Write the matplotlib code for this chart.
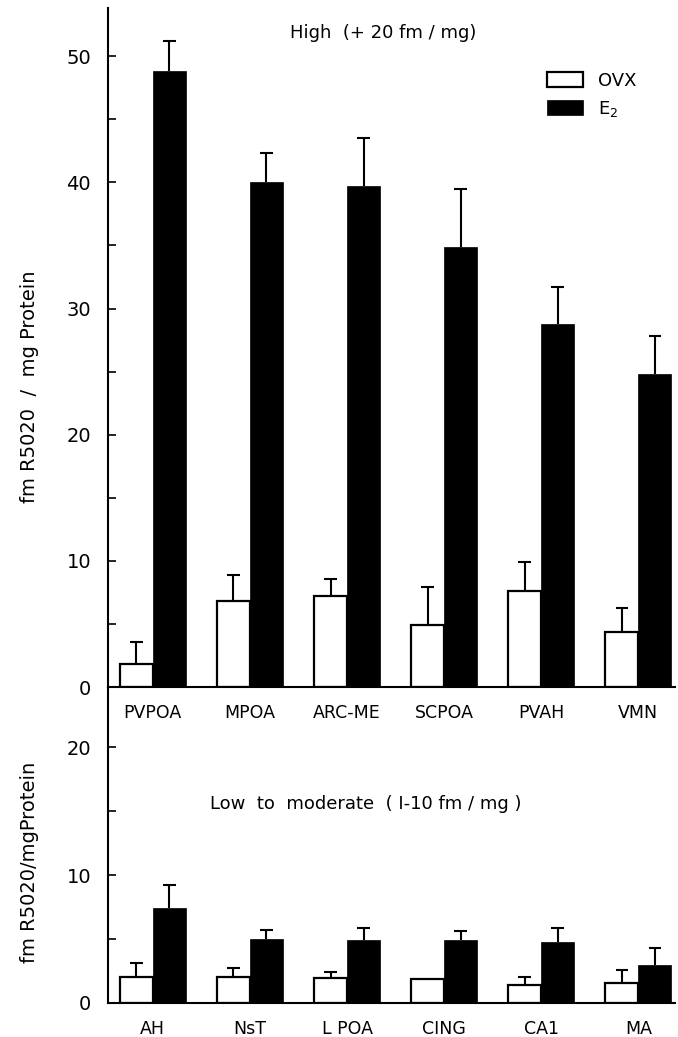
import matplotlib.pyplot as plt
import numpy as np

# High binding regions (top panel)
high_regions = ['PVPOA', 'MPOA', 'ARC-ME', 'SCPOA', 'PVAH', 'VMN']
high_ovx = [1.8, 6.8, 7.2, 4.9, 7.6, 4.4]
high_ovx_err = [1.8, 2.1, 1.4, 3.0, 2.3, 1.9]
high_e2 = [48.8, 40.0, 39.7, 34.9, 28.8, 24.8]
high_e2_err = [2.4, 2.3, 3.8, 4.6, 2.9, 3.0]

# Low to moderate regions (bottom panel)
low_regions = ['AH', 'NsT', 'L POA', 'CING', 'CA1', 'MA']
low_ovx = [2.0, 2.0, 1.95, 1.9, 1.4, 1.6]
low_ovx_err = [1.1, 0.7, 0.45, 0.0, 0.6, 1.0]
low_e2 = [7.4, 5.0, 4.9, 4.9, 4.8, 3.0]
low_e2_err = [1.8, 0.7, 1.0, 0.7, 1.1, 1.3]

plt.rcParams['font.family'] = ['DejaVu Sans']

fig = plt.figure(figsize=(6.78, 10.37), dpi=100)
ax_top = fig.add_axes([0.159, 0.3375, 0.837, 0.6545])
ax_bot = fig.add_axes([0.159, 0.0328, 0.837, 0.3047])
ax_bot.patch.set_visible(False)
ax_top.set_zorder(2)
ax_top.patch.set_visible(False)

w = 0.34
cap = 0.065


def up_err(ax, x, val, err):
    # upper-only error bars
    val = np.asarray(val)
    err = np.asarray(err)
    show = err > 0
    ax.vlines(x[show], val[show], val[show] + err[show], color='black', lw=1.5, zorder=3)
    ax.hlines(val[show] + err[show], x[show] - cap, x[show] + cap, color='black', lw=1.5, zorder=3)


def draw_panel(ax, regions, ovx, ovx_err, e2, e2_err, ymax):
    x = np.arange(len(regions))
    ax.bar(x - w / 2, ovx, w, color='white', edgecolor='black', linewidth=1.6, label='OVX')
    ax.bar(x + w / 2, e2, w, color='black', edgecolor='black', linewidth=0.5, label='E$_2$')
    up_err(ax, x - w / 2, ovx, ovx_err)
    up_err(ax, x + w / 2, e2, e2_err)
    ax.set_xlim(-0.464, 5.38)
    ax.set_ylim(0, ymax)
    ax.set_xticks(x, regions)
    ax.tick_params(axis='x', length=0, pad=12, labelsize=12.5)
    ax.set_yticks([0, 10, 20, 30, 40, 50][:int(ymax // 10) + 1])
    ax.set_yticks(np.arange(5, ymax, 10), minor=True)
    ax.tick_params(axis='y', which='both', direction='in', length=6, width=1.2,
                   labelsize=14, pad=12)
    for s in ['top', 'right']:
        ax.spines[s].set_visible(False)
    for s in ['left', 'bottom']:
        ax.spines[s].set_linewidth(1.5)


draw_panel(ax_top, high_regions, high_ovx, high_ovx_err, high_e2, high_e2_err, 53.8)
draw_panel(ax_bot, low_regions, low_ovx, low_ovx_err, low_e2, low_e2_err, 24.7)

ax_top.text(0.485, 0.963, 'High  (+ 20 fm / mg)', transform=ax_top.transAxes,
            ha='center', va='center', fontsize=13)
ax_bot.text(0.455, 0.63, 'Low  to  moderate  ( I-10 fm / mg )', transform=ax_bot.transAxes,
            ha='center', va='center', fontsize=13)

ax_top.legend(loc='upper right', bbox_to_anchor=(0.96, 0.93), frameon=False,
              fontsize=13, handlelength=2.0, handleheight=0.9, labelspacing=0.5)

fig.text(30 / 678, 1 - 387 / 1037, 'fm R5020  /  mg Protein', rotation=90,
         ha='center', va='center', fontsize=14)
fig.text(30 / 678, 1 - 862 / 1037, 'fm R5020/mgProtein', rotation=90,
         ha='center', va='center', fontsize=14)

fig.savefig('out.png', dpi=100)
